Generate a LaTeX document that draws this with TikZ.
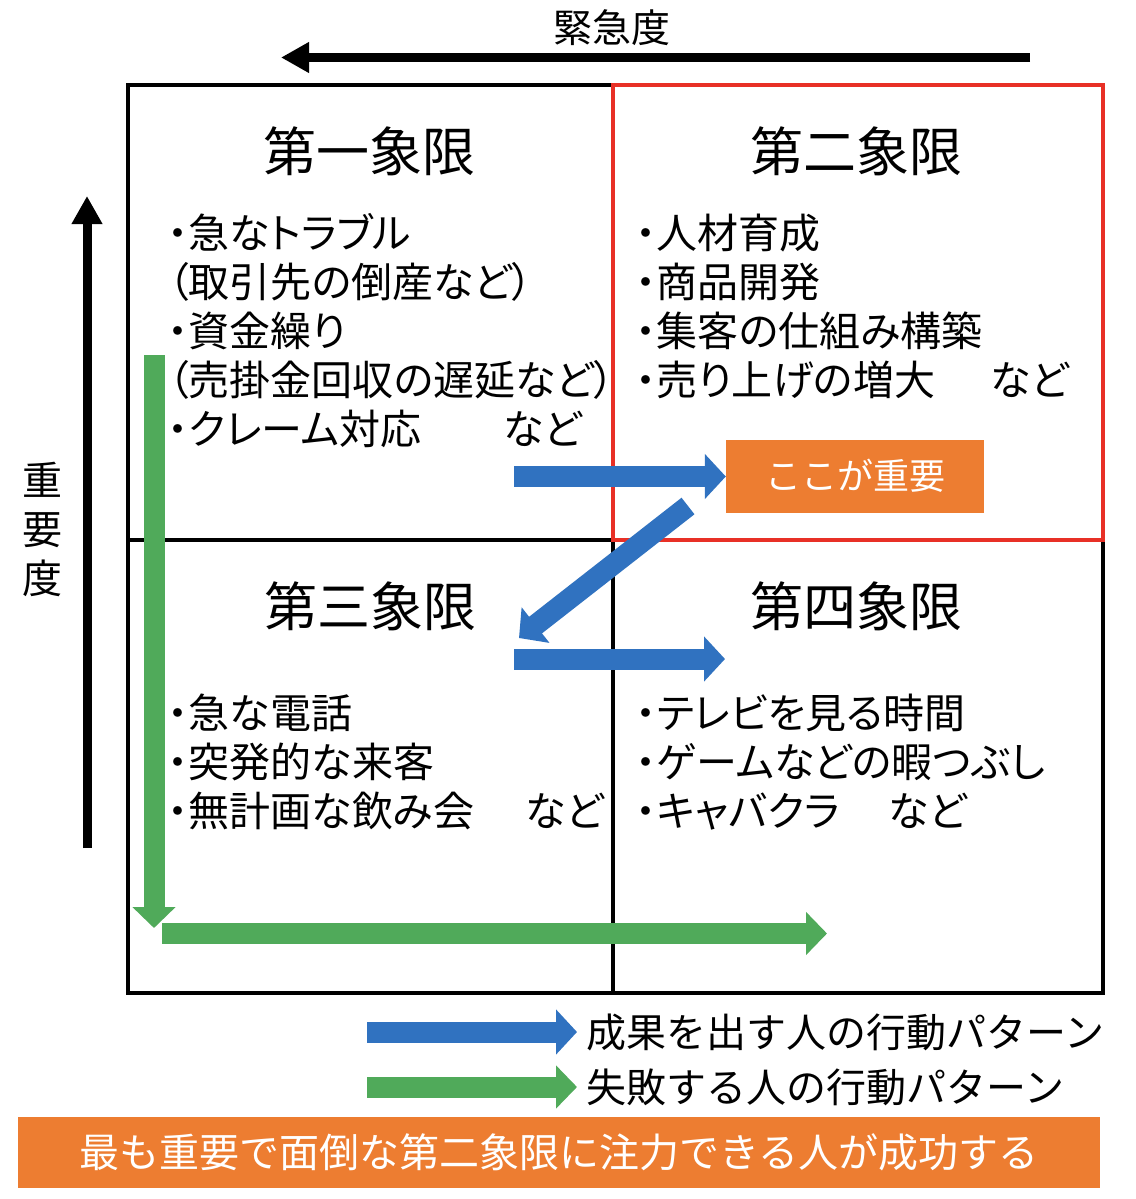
\documentclass[tikz,border=0pt]{standalone}
\usepackage{fontspec}
\newfontfamily\jp{Noto Sans CJK JP}
\newfontfamily\jpp{Noto Sans CJK JP}[RawFeature=+palt]
\usetikzlibrary{positioning, arrows.meta}
\definecolor{qblue}{RGB}{48,114,192}
\definecolor{qgreen}{RGB}{80,170,90}
\definecolor{qorange}{RGB}{237,125,49}
\definecolor{qred}{RGB}{232,48,38}

\begin{document}
\begin{tikzpicture}[x=1pt, y=-1pt,
    title/.style={inner sep=0pt, font=\jp\fontsize{53pt}{60pt}\selectfont, text height=46pt, text depth=7pt},
    item/.style={anchor=west, inner sep=0pt, font=\jpp\fontsize{41pt}{49pt}\selectfont, text height=36pt, text depth=5pt},
    legend/.style={anchor=west, inner sep=0pt, font=\jp\fontsize{40pt}{46pt}\selectfont, text height=35pt, text depth=5pt},
    axisarrow/.style={line width=9pt, -{Triangle[length=28pt,width=29pt]}},
    good/.style={draw=qblue, line width=21pt, -{Triangle[length=21pt,width=44pt]}},
    bad/.style={draw=qgreen, line width=21pt, -{Triangle[length=21pt,width=42pt]}}]
    \path [use as bounding box, fill=white] (0,0) rectangle (1135,1199);

    \coordinate (tl) at (128,85);
    \coordinate (br) at (1103,993);
    \coordinate (mt) at (613,85);
    \coordinate (mb) at (613,993);
    \coordinate (ml) at (128,540);
    \coordinate (mr) at (1103,540);
    \draw [line width=4.5pt] (tl) rectangle (br);
    \draw [line width=3.5pt] (mt) -- (mb) (ml) -- (mr);
    \draw [qred, line width=4pt] (mt) rectangle (mr);

    \node (urg) [inner sep=0pt, font=\jp\fontsize{39pt}{45pt}\selectfont, text height=34pt, text depth=5pt] at (612,28) {緊急度};
    \coordinate (u1) at (1030,57.5);
    \coordinate (u2) at (281,57.5);
    \draw [axisarrow] (u1) -- (u2);
    \node (imptc) [inner sep=0pt, align=center, font=\jp\fontsize{40pt}{49pt}\selectfont] at (42,529) {重\\要\\度};
    \coordinate (v1) at (87,848);
    \coordinate (v2) at (87,196);
    \draw [axisarrow] (v1) -- (v2);

    \node (t1) [title] at (369,152) {第一象限};
    \node (t2) [title] at (856,152) {第二象限};
    \node (t3) [title] at (370,607) {第三象限};
    \node (t4) [title] at (856,607) {第四象限};

    \node (a1) [item] at (168,233) {・急なトラブル};
    \node (a2) [item] at (168,282) {（取引先の倒産など）};
    \node (a3) [item] at (168,331) {・資金繰り};
    \node (a4) [item] at (168,380) {（売掛金回収の遅延など）};
    \node (a5) [item] at (168,429) {・クレーム対応\hspace{2em}など};
    \node (b1) [item] at (636,233) {・人材育成};
    \node (b2) [item] at (636,282) {・商品開発};
    \node (b3) [item] at (636,331) {・集客の仕組み構築};
    \node (b4) [item] at (636,380) {・売り上げの増大\hspace{1.35em}など};
    \node (c1) [item] at (168,713) {・急な電話};
    \node (c2) [item] at (168,762) {・突発的な来客};
    \node (c3) [item] at (168,811) {・無計画な飲み会\hspace{1.25em}など};
    \node (d1) [item] at (636,713) {・テレビを見る時間};
    \node (d2) [item] at (636,762) {・ゲームなどの暇つぶし};
    \node (d3) [item] at (636,811) {・キャバクラ\hspace{1.2em}など};

    \node (imp) [fill=qorange, text=white, inner sep=0pt, minimum width=258pt, minimum height=73pt, font=\jp\fontsize{36pt}{42pt}\selectfont, text height=31pt, text depth=5pt] at (855,476.5) {ここが重要};

    \coordinate (s1) at (514,476.5);
    \coordinate (s2) at (688,506);
    \coordinate (s2e) at (519,638);
    \coordinate (s3) at (514,659);
    \coordinate (s3e) at (725,659);
    \draw [good] (s1) -- (imp.west);
    \draw [good] (s2) -- (s2e);
    \draw [good] (s3) -- (s3e);

    \coordinate (f1) at (154,355);
    \coordinate (f1e) at (154,928);
    \coordinate (f2) at (162,933.5);
    \coordinate (f2e) at (827,933.5);
    \draw [bad] (f1) -- (f1e);
    \draw [bad] (f2) -- (f2e);

    \coordinate (l1) at (367,1032);
    \coordinate (l1e) at (577,1032);
    \coordinate (l2) at (367,1087);
    \coordinate (l2e) at (577,1087);
    \draw [good] (l1) -- (l1e);
    \draw [bad] (l2) -- (l2e);
    \node (lg1) [legend, right=9pt of l1e] {成果を出す人の行動パターン};
    \node (lg2) [legend, right=9pt of l2e] {失敗する人の行動パターン};

    \node (msg) [fill=qorange, text=white, inner sep=0pt, minimum width=1082pt, minimum height=71pt, font=\jp\fontsize{40pt}{46pt}\selectfont, text height=35pt, text depth=5pt] at (559,1152.5) {最も重要で面倒な第二象限に注力できる人が成功する};
\end{tikzpicture}
\end{document}
